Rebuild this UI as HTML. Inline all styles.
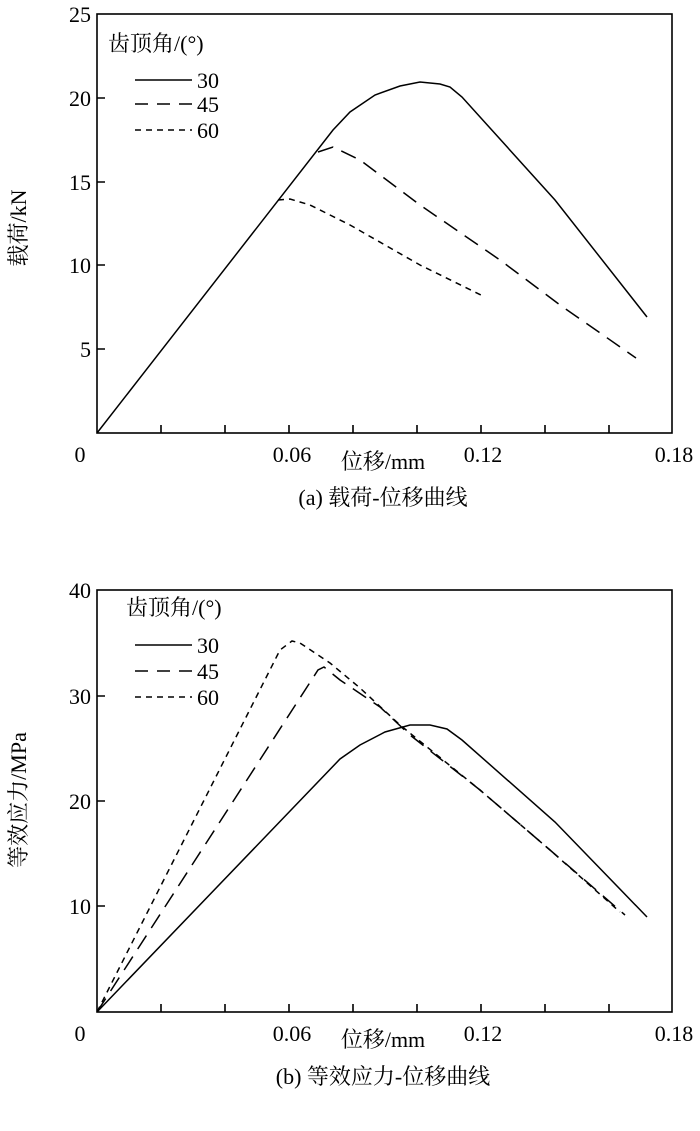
<!DOCTYPE html>
<html><head><meta charset="utf-8"><style>
html,body{margin:0;padding:0;background:#fff;}
svg text{font-family:"Liberation Serif","Noto Serif CJK SC",serif;fill:#000;font-size:22px;}
</style></head><body>
<svg width="700" height="1126" viewBox="0 0 700 1126" xmlns="http://www.w3.org/2000/svg">
<g fill="none" stroke="#000" stroke-width="1.6">
<rect x="97" y="14" width="575" height="419"/>
<path d="M161,433v-8M225,433v-8M289,433v-8M353,433v-8M417,433v-8M481,433v-8M545,433v-8M609,433v-8M97,349h8M97,265h8M97,182h8M97,98h8"/>
<rect x="97" y="590" width="575" height="422"/>
<path d="M161,1012v-8M225,1012v-8M289,1012v-8M353,1012v-8M417,1012v-8M481,1012v-8M545,1012v-8M609,1012v-8M97,906h8M97,801h8M97,696h8"/>
</g>
<g fill="none" stroke="#000" stroke-width="1.5">
<path d="M97,433 L333,130 L350,112 L375,95 L400,86 L420,82 L440,84 L450,87 L462,97 L555,200 L647,317"/>
<path d="M318,152 L333,147 L360,160 L420,205 L500,260 L560,305 L636,358" stroke-dasharray="16,9"/>
<path d="M278,200 L290,199 L310,205 L350,225 L420,265 L485,297" stroke-dasharray="6,5"/>
<path d="M97,1012 L340,759 L360,745 L385,732 L410,725 L430,725 L447,729 L462,740 L555,822 L647,917"/>
<path d="M97,1012 L318,670 L324,667 L340,680 L380,707 L410,735 L480,790 L550,850 L625,915" stroke-dasharray="16,9"/>
<path d="M97,1012 L280,650 L292,641 L300,643 L330,663 L360,688 L400,725 L480,790 L550,850 L620,912" stroke-dasharray="6,5"/>
<path d="M135,80h57M135,645h57"/>
<path d="M135,104h57M135,671h57" stroke-dasharray="13,9"/>
<path d="M135,130h57M135,697h57" stroke-dasharray="6,5"/>
</g>
<g>
<text x="108" y="51">齿顶角/(°)</text>
<text x="197" y="88">30</text><text x="197" y="112">45</text><text x="197" y="138">60</text>
<text x="126" y="615">齿顶角/(°)</text>
<text x="197" y="653">30</text><text x="197" y="679">45</text><text x="197" y="705">60</text>
</g>
<g text-anchor="end">
<text x="91" y="22">25</text><text x="91" y="106">20</text><text x="91" y="190">15</text><text x="91" y="273">10</text><text x="91" y="357">5</text>
<text x="91" y="598">40</text><text x="91" y="704">30</text><text x="91" y="809">20</text><text x="91" y="914">10</text>
</g>
<g text-anchor="middle">
<text x="80" y="462">0</text><text x="292" y="462">0.06</text><text x="483" y="462">0.12</text><text x="674" y="462">0.18</text>
<text x="383" y="469">位移/mm</text>
<text x="383" y="505">(a) 载荷-位移曲线</text>
<text x="80" y="1041">0</text><text x="292" y="1041">0.06</text><text x="483" y="1041">0.12</text><text x="674" y="1041">0.18</text>
<text x="383" y="1047">位移/mm</text>
<text x="383" y="1084">(b) 等效应力-位移曲线</text>
<text transform="translate(26,228) rotate(-90)">载荷/kN</text>
<text transform="translate(26,800) rotate(-90)">等效应力/MPa</text>
</g>
</svg>
</body></html>
